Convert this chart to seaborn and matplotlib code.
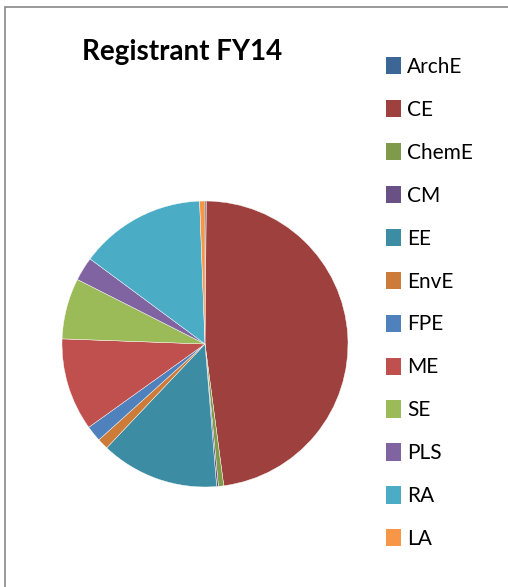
import matplotlib
matplotlib.use("Agg")
import matplotlib.pyplot as plt
import seaborn as sns
from matplotlib.patches import Rectangle, Patch

# share of registrants by discipline, FY14 (percent)
disciplines = ["ArchE", "CE", "ChemE", "CM", "EE", "EnvE",
               "FPE", "ME", "SE", "PLS", "RA", "LA"]
shares = [0.15, 47.9, 0.6, 0.2, 13.4, 1.25, 1.8, 10.5, 6.9, 2.7, 14.3, 0.6]
slice_colors = ["#3C6696", "#9E413E", "#7F9A48", "#695185", "#3C8DA3", "#CC7B38",
                "#4F81BD", "#C0504D", "#9BBB59", "#8064A2", "#4BACC6", "#F79646"]

sns.set_theme(style="white")
plt.rcParams["font.family"] = ["Lato", "DejaVu Sans"]
palette = sns.color_palette(slice_colors)

W, H = 508, 587
fig = plt.figure(figsize=(W / 100, H / 100), dpi=100)
fig.patch.set_facecolor("white")

# chart area border (runs off the right and bottom edges)
fig.add_artist(Rectangle((5 / W, -0.02), 1.05, 1 - 7 / H + 0.02, transform=fig.transFigure,
                         fill=False, edgecolor="#878787", lw=1.2))

cx, cy, r = 205, 344, 143
ax = fig.add_axes([(cx - r) / W, (H - cy - r) / H, 2 * r / W, 2 * r / H])
wedges, _ = ax.pie(shares, colors=palette, startangle=90, counterclock=False,
                   radius=1, wedgeprops=dict(linewidth=0.3, edgecolor="white"))
ax.set_xlim(-1, 1)
ax.set_ylim(-1, 1)
ax.set_aspect("equal")
ax.axis("off")

fig.text(182 / W, 1 - 52 / H, "Registrant FY14", ha="center", va="center",
         fontsize=20, fontweight="bold", color="black")

handles = [Patch(facecolor=c, edgecolor="none") for c in palette]
fig.legend(handles, disciplines, loc="upper left",
           bbox_to_anchor=(376 / W, 1 - 46.5 / H), frameon=False,
           fontsize=15, labelspacing=1.1, handlelength=0.7, handleheight=0.9,
           handletextpad=0.3, borderpad=0, labelcolor="black")

fig.savefig("out.png", dpi=100)
